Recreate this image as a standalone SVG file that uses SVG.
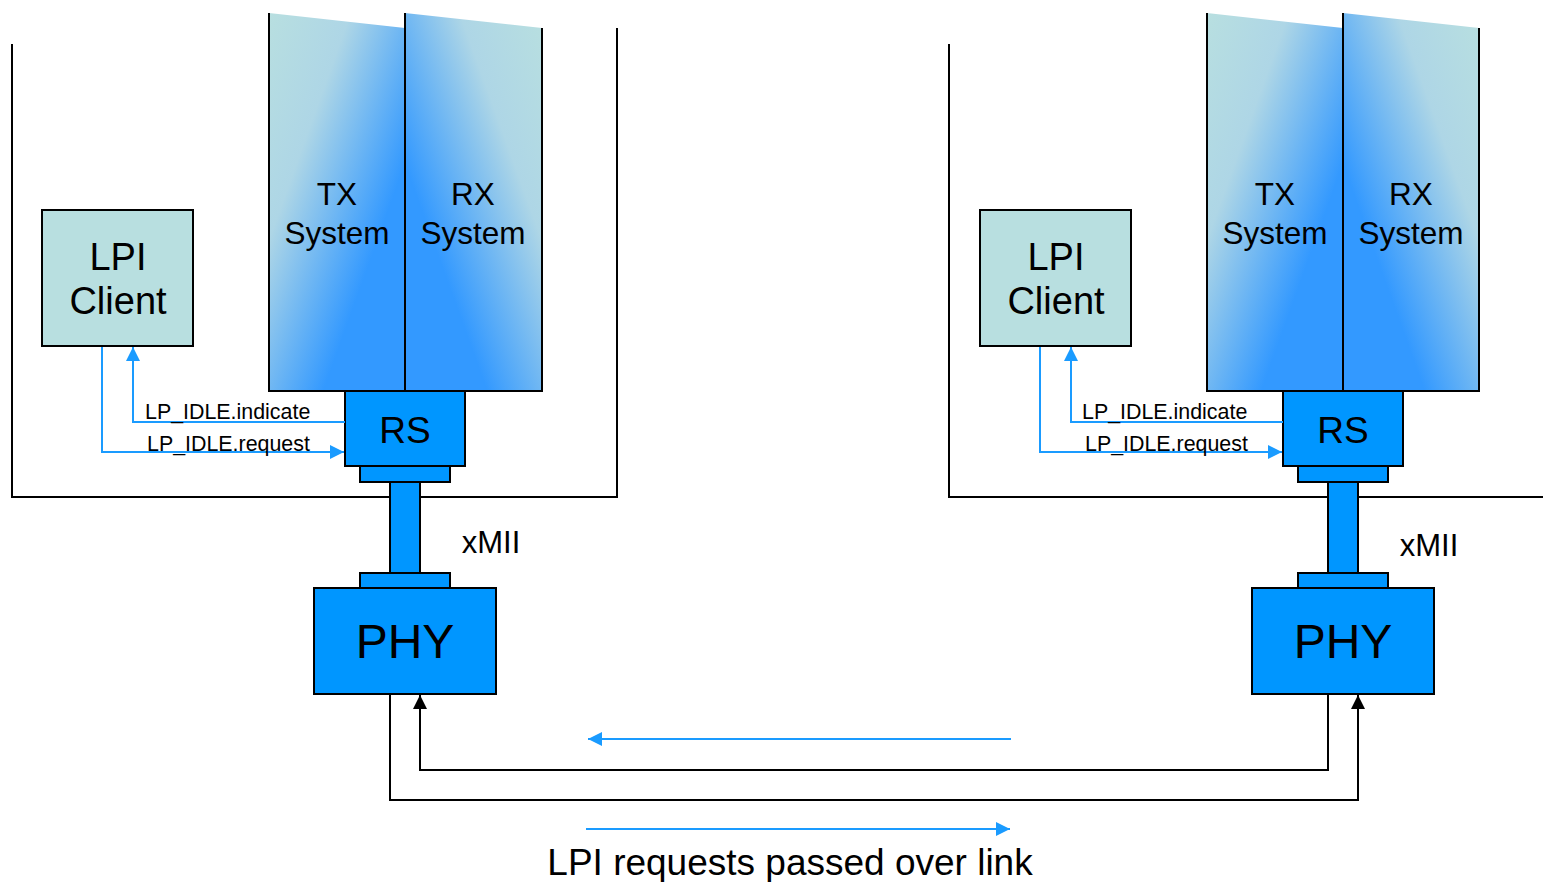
<svg xmlns="http://www.w3.org/2000/svg" width="1543" height="882" viewBox="0 0 1543 882">
<style>
text{font-family:"Liberation Sans",Arial,sans-serif;fill:#000;text-anchor:middle}
.frame{fill:none;stroke:#000;stroke-width:2}
.box{stroke:#000;stroke-width:2}
.blue{fill:#0096ff}
.client{fill:#b8dfe0;stroke:#000;stroke-width:2}
.sig{fill:none;stroke:#1a9bff;stroke-width:2}
.link{fill:none;stroke:#000;stroke-width:2}
.lbl{font-size:21.4px;text-anchor:start}
.big{font-size:38px}
.rs{font-size:37px}
.sys{font-size:31.5px}
</style>
<defs>
<linearGradient id="gtx" x1="0" y1="0" x2="1" y2="1">
<stop offset="0" stop-color="#b8dfe0"/>
<stop offset="0.3" stop-color="#aed6e6"/>
<stop offset="0.7" stop-color="#3399ff"/>
<stop offset="1" stop-color="#3399ff"/>
</linearGradient>
<linearGradient id="grx" x1="1" y1="0" x2="0" y2="1">
<stop offset="0" stop-color="#b8dfe0"/>
<stop offset="0.3" stop-color="#aed6e6"/>
<stop offset="0.7" stop-color="#3399ff"/>
<stop offset="1" stop-color="#3399ff"/>
</linearGradient>
<marker id="abig" viewBox="0 0 10 10" refX="10" refY="5" markerWidth="14" markerHeight="14" markerUnits="userSpaceOnUse" orient="auto">
<path d="M0,0 L10,5 L0,10 z" fill="#1a9bff"/>
</marker>
<marker id="ak" viewBox="0 0 10 10" refX="10" refY="5" markerWidth="14" markerHeight="14" markerUnits="userSpaceOnUse" orient="auto">
<path d="M0,0 L10,5 L0,10 z" fill="#000"/>
</marker>
</defs>
<rect width="1543" height="882" fill="#fff"/>

<g id="left-station">
<path class="frame" d="M12,44 V497 H617 V28"/>
<g id="left-tx">
<path d="M269,13 L405,28 V391 H269 Z" fill="url(#gtx)"/>
<path class="frame" d="M269,13 V391 H405"/>
<text class="sys" x="337" y="205">TX</text>
<text class="sys" x="337" y="244">System</text>
</g>
<g id="left-rx">
<path d="M405,13 L542,28 V391 H405 Z" fill="url(#grx)"/>
<path class="frame" d="M405,13 V391 H542 V28"/>
<text class="sys" x="473" y="205">RX</text>
<text class="sys" x="473" y="244">System</text>
</g>
<g id="left-client">
<rect class="client" x="42" y="210" width="151" height="136"/>
<text class="big" x="118" y="270">LPI</text>
<text class="big" x="118" y="314">Client</text>
</g>
<g id="left-rs">
<rect class="box blue" x="345" y="391" width="120" height="75"/>
<rect class="box blue" x="360" y="466" width="90" height="16"/>
<text class="rs" x="405" y="443">RS</text>
</g>
<g id="left-xmii">
<rect class="box blue" x="390" y="482" width="30" height="91"/>
<text x="491" y="553" style="font-size:31px">xMII</text>
</g>
<g id="left-phy">
<rect class="box blue" x="360" y="573" width="90" height="15"/>
<rect class="box blue" x="314" y="588" width="182" height="106"/>
<text x="405" y="658" style="font-size:48px">PHY</text>
</g>
</g>

<g id="right-station">
<path class="frame" d="M949,44 V497 H1543"/>
<g id="right-tx">
<path d="M1207,13 L1343,28 V391 H1207 Z" fill="url(#gtx)"/>
<path class="frame" d="M1207,13 V391 H1343"/>
<text class="sys" x="1275" y="205">TX</text>
<text class="sys" x="1275" y="244">System</text>
</g>
<g id="right-rx">
<path d="M1343,13 L1479,28 V391 H1343 Z" fill="url(#grx)"/>
<path class="frame" d="M1343,13 V391 H1479 V28"/>
<text class="sys" x="1411" y="205">RX</text>
<text class="sys" x="1411" y="244">System</text>
</g>
<g id="right-client">
<rect class="client" x="980" y="210" width="151" height="136"/>
<text class="big" x="1056" y="270">LPI</text>
<text class="big" x="1056" y="314">Client</text>
</g>
<g id="right-rs">
<rect class="box blue" x="1283" y="391" width="120" height="75"/>
<rect class="box blue" x="1298" y="466" width="90" height="16"/>
<text class="rs" x="1343" y="443">RS</text>
</g>
<g id="right-xmii">
<rect class="box blue" x="1328" y="482" width="30" height="91"/>
<text x="1429" y="556" style="font-size:31px">xMII</text>
</g>
<g id="right-phy">
<rect class="box blue" x="1298" y="573" width="90" height="15"/>
<rect class="box blue" x="1252" y="588" width="182" height="106"/>
<text x="1343" y="658" style="font-size:48px">PHY</text>
</g>
</g>

<g id="connectors">
<path class="sig" d="M345,422 H133 V347" marker-end="url(#abig)"/>
<path class="sig" d="M102,347 V452 H344" marker-end="url(#abig)"/>
<text class="lbl" x="145" y="419">LP_IDLE.indicate</text>
<text class="lbl" x="147" y="451">LP_IDLE.request</text>

<path class="sig" d="M1283,422 H1071 V347" marker-end="url(#abig)"/>
<path class="sig" d="M1040,347 V452 H1282" marker-end="url(#abig)"/>
<text class="lbl" x="1082" y="419">LP_IDLE.indicate</text>
<text class="lbl" x="1085" y="451">LP_IDLE.request</text>

<path class="link" d="M390,694 V800 H1358 V695" marker-end="url(#ak)"/>
<path class="link" d="M1328,694 V770 H420 V695" marker-end="url(#ak)"/>

<path class="sig" d="M1011,739 H588" marker-end="url(#abig)"/>
<path class="sig" d="M586,829 H1010" marker-end="url(#abig)"/>
</g>
<text x="790" y="875" style="font-size:37px">LPI requests passed over link</text>
</svg>
